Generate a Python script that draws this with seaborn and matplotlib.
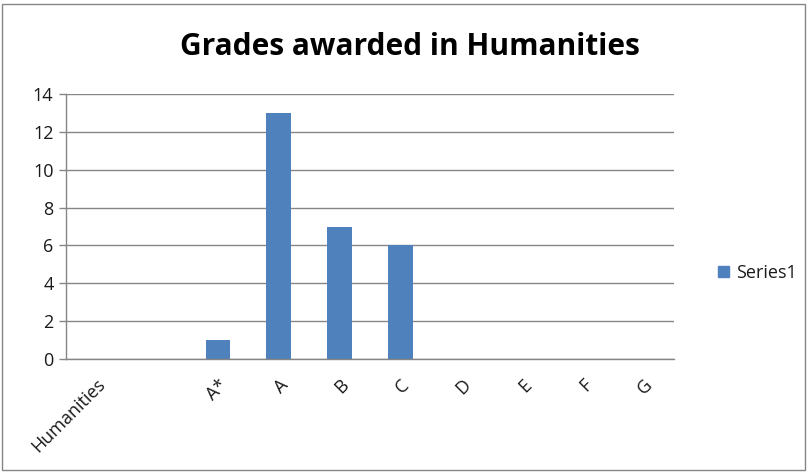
import pandas as pd
import numpy as np
import matplotlib.pyplot as plt
import seaborn as sns
from matplotlib.patches import Patch, Rectangle

categories = ["Humanities", "", "A*", "A", "B", "C", "D", "E", "F", "G"]
values = [0, 0, 1, 13, 7, 6, 0, 0, 0, 0]
series_name = "Series1"

sns.set_style("white")
plt.rcParams['font.family'] = ['Open Sans', 'DejaVu Sans']
plt.rcParams['text.color'] = '#1a1a1a'
plt.rcParams['xtick.color'] = '#1a1a1a'
plt.rcParams['ytick.color'] = '#1a1a1a'

data = pd.DataFrame({"grade": categories, "count": values})

fig = plt.figure(figsize=(8.08, 4.72), dpi=100)
ax = fig.add_axes([66/808, 1 - 359/472, (674-66)/808, (359-94)/472])

sns.barplot(data=data, x="grade", y="count", order=categories, color="#4F81BD",
            width=0.41, saturation=1, linewidth=0, ax=ax)

ax.set_xlim(-0.5, len(categories) - 0.5)
ax.set_ylim(0, 14)
ax.set_yticks(range(0, 15, 2))
ax.grid(axis='y', color='#868686', linewidth=1)
ax.set_axisbelow(True)
for s in ['top', 'right']:
    ax.spines[s].set_visible(False)
for s in ['left', 'bottom']:
    ax.spines[s].set_color('#868686')
    ax.spines[s].set_linewidth(1)

ax.set_xticks(np.arange(len(categories)))
ax.set_xticklabels(categories, rotation=45, ha='right', rotation_mode='anchor', fontsize=13)
ax.tick_params(axis='x', which='major', length=0, pad=12)
ax.set_xticks(np.arange(-0.5, len(categories)), minor=True)
ax.tick_params(axis='x', which='minor', length=5, color='#868686', width=1)
ax.tick_params(axis='y', length=5, color='#868686', width=1, labelcolor='#1a1a1a',
               labelsize=13, pad=4, left=True)
ax.set_xlabel("")
ax.set_ylabel("")

fig.text(410/808, 1 - 47/472, "Grades awarded in Humanities", ha='center', va='center',
         fontsize=21.5, fontweight='bold', color='black')

fig.legend(handles=[Patch(color="#4F81BD", label=series_name)], loc='center left',
           bbox_to_anchor=(702/808, 1 - 273/472), frameon=False, fontsize=13,
           handlelength=0.6, handleheight=0.6, handletextpad=0.4)

fig.add_artist(Rectangle((2/808, 2/472), 803/808, 466/472, transform=fig.transFigure,
                         fill=False, edgecolor='#868686', linewidth=1))

fig.savefig("out.png", dpi=100)
